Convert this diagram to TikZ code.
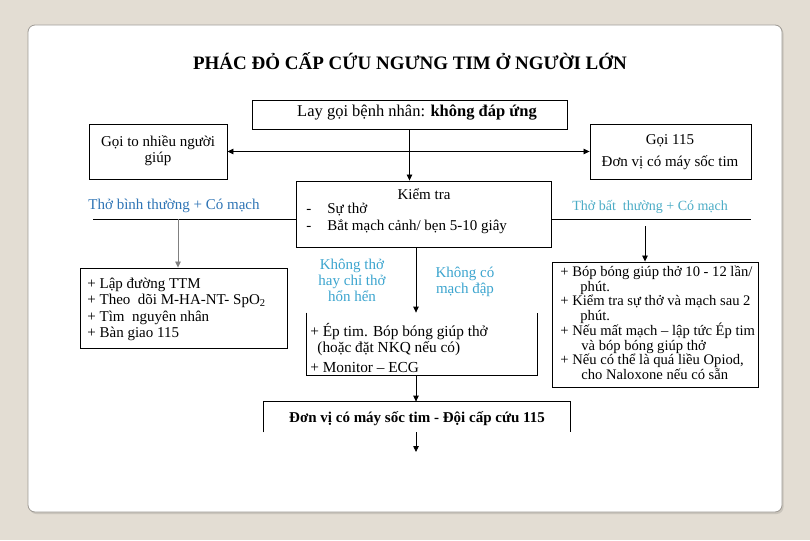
\documentclass[tikz,border=0pt]{standalone}
\usepackage{fontspec}
\setmainfont{Liberation Serif}
\usetikzlibrary{arrows.meta}
\definecolor{bgc}{HTML}{E3DDD3}
\definecolor{cardc}{HTML}{9E9A94}
\definecolor{shadowc}{HTML}{C9C4BB}
\definecolor{blueA}{HTML}{2E74B5}
\definecolor{blueB}{HTML}{3CA5CF}
\definecolor{blueC}{HTML}{4BACC6}
\newcommand\linestack[2]{\vtop{\baselineskip=#1\lineskiplimit=-100pt\lineskip=0pt #2}}
\begin{document}
\begin{tikzpicture}[x=1pt,y=-1pt,line width=0.8pt,
  box/.style={draw,line width=0.9pt,inner sep=0pt},
  openbox/.style={inner sep=0pt},
  arr/.style={-{Triangle[length=6pt,width=5.5pt]}},
  dblarr/.style={{Triangle[length=6pt,width=5.5pt]}-{Triangle[length=6pt,width=5.5pt]}},
  txt/.style={font=\fontsize{15}{16.3}\selectfont,inner sep=0pt},
  txtsm/.style={font=\fontsize{14.6}{14.7}\selectfont,inner sep=0pt},
  lbl/.style={font=\fontsize{15}{16}\selectfont,inner sep=0pt}]
\fill[bgc] (0,0) rectangle (810,540);
\useasboundingbox (0,0) rectangle (810,540);
\fill[shadowc,rounded corners=7pt] (29.5,26.5) rectangle (783.5,514);
\filldraw[fill=white,draw=cardc,line width=0.8pt,rounded corners=7pt] (28,25) rectangle (782,512);

% title
\node[inner sep=0pt,font=\bfseries\fontsize{19}{20}\selectfont,anchor=base] (title) at (410,69.5) {PHÁC ĐỎ CẤP CỨU NGƯNG TIM Ở NGƯỜI LỚN};

% boxes
\node[box,minimum width=315pt,minimum height=29pt] (top) at (409.5,114.5) {};
\node[box,minimum width=138pt,minimum height=55pt] (lcall) at (158,151.5) {};
\node[box,minimum width=161pt,minimum height=55pt] (rcall) at (670.5,151.5) {};
\node[box,minimum width=255pt,minimum height=66pt] (kiem) at (423.5,214) {};
\node[box,minimum width=207pt,minimum height=80pt] (lbox) at (183.5,308) {};
\node[openbox,minimum width=230pt,minimum height=62pt] (mid) at (422,344) {};
\node[box,minimum width=206pt,minimum height=125pt] (rbox) at (655,324.5) {};
\node[openbox,minimum width=306pt,minimum height=30pt] (bot) at (417,417) {};
\draw[line width=0.9pt] (mid.north west) -- (mid.south west) -- (mid.south east) -- (mid.north east);
\draw[line width=0.9pt] (bot.south west) -- (bot.north west) -- (bot.north east) -- (bot.south east);

% texts
\node[txt,font=\fontsize{16.5}{18}\selectfont,anchor=base] (toptxt) at (417,117) {Lay gọi bệnh nhân: \textbf{không đáp ứng}};
\node[txt,anchor=base] (lcalltxt) at (158,146.5) {\begin{tabular}[t]{@{}c@{}}Gọi to nhiều người\\giúp\end{tabular}};
\node[txt,anchor=base] (rcalltxt) at (670,144.5) {\begin{tabular}[t]{@{}c@{}}Gọi 115\\[5.5pt]Đơn vị có máy sốc tim\end{tabular}};
\node[txt,anchor=base] (kiemt) at (424,199.5) {Kiểm tra};
\node[txt,anchor=base west] (kd1) at (306,213) {-};
\node[txt,anchor=base west] (kt1) at (327,213) {Sự thở};
\node[txt,anchor=base west] (kd2) at (306,230) {-};
\node[txt,anchor=base west] (kt2) at (327,230) {Bắt mạch cảnh/ bẹn 5-10 giây};

\node[lbl,text=blueA,anchor=base west] (lnorm) at (88,209.5) {Thở bình thường + Có mạch};
\node[lbl,font=\fontsize{14}{16}\selectfont,text=blueC,anchor=base west] (rabn) at (572,210.5) {Thở bất\ \ thường + Có mạch};
\node[lbl,text=blueB,anchor=base] (nobr) at (352,269.5) {\begin{tabular}[t]{@{}c@{}}Không thở\\hay chỉ thở\\hổn hển\end{tabular}};
\node[lbl,text=blueB,anchor=base] (nopu) at (465,277) {\begin{tabular}[t]{@{}c@{}}Không có\\mạch đập\end{tabular}};

\node[txt,anchor=base west] (ltxt) at (87,288.5) {\linestack{16.3pt}{\hbox{+ Lập đường TTM}\hbox{+ Theo\ \ dõi M-HA-NT-\ SpO\textsubscript{2}}\hbox{+ Tìm\ \ nguyên nhân}\hbox{+ Bàn giao 115}}};
\node[txt,font=\fontsize{15.3}{16.3}\selectfont,anchor=base west] (mtxt) at (310,336.5) {\linestack{16pt}{\hbox{+ Ép tim. Bóp bóng giúp thở}\hbox{\kern7pt(hoặc đặt NKQ nếu có)}\vskip3.5pt\hbox{+ Monitor – ECG}}};
\node[txtsm,anchor=base west] (rtxt) at (560,276.5) {\linestack{14.7pt}{\hbox{+ Bóp bóng giúp thở 10 - 12 lần/}\hbox{\kern20pt phút.}\hbox{+ Kiểm tra sự thở và mạch sau 2}\hbox{\kern20pt phút.}\hbox{+ Nếu mất mạch – lập tức Ép tim}\hbox{\kern21pt và bóp bóng giúp thở}\hbox{+ Nếu có thể là quá liều Opiod,}\hbox{\kern21pt cho Naloxone nếu có sẵn}}};
\node[inner sep=0pt,font=\bfseries\fontsize{15}{17}\selectfont,anchor=base] (bottxt) at (417,422.5) {Đơn vị có máy sốc tim - Đội cấp cứu 115};

% connectors
\draw[arr] (top.south) -- (top.south |- kiem.north);
\draw[dblarr] (lcall.east) -- (rcall.west);
\coordinate (lL) at (93,219);
\coordinate (lv) at (178,219);
\draw (lL) -- (lL -| kiem.west);
\draw[arr,draw=gray,fill=black] (lv) -- (lv |- lbox.north);
\coordinate (rR) at (751,219);
\coordinate (rv) at (645,226);
\draw (kiem.east |- rR) -- (rR);
\draw[arr] (rv) -- (rv |- rbox.north);
\coordinate (mx) at (416,0);
\coordinate (endp) at (416,452);
\draw[arr] (kiem.south -| mx) -- (mid.north -| mx);
\draw[arr] (mid.south -| mx) -- (bot.north -| mx);
\draw[arr] (bot.south -| mx) -- (endp);
\end{tikzpicture}
\end{document}
